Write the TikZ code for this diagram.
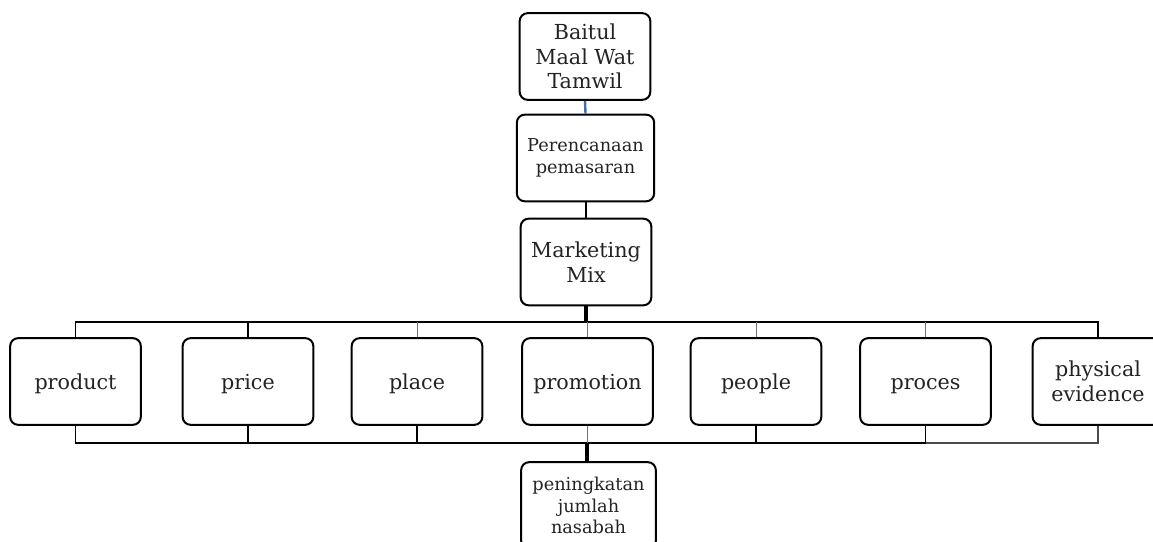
\documentclass[tikz,border=0pt]{standalone}
\usepackage{fontspec}
\setmainfont{DejaVu Serif}
\definecolor{txtgray}{RGB}{35,35,35}
\definecolor{linkblue}{RGB}{70,110,160}
\tikzset{
  box/.style={draw, line width=1.5pt, rounded corners=6pt, inner sep=0pt,
    minimum width=98pt, minimum height=65pt, align=center, text=txtgray},
  bigtxt/.style={font=\fontsize{15.5}{18.5}\selectfont},
  smalltxt/.style={font=\fontsize{13.3}{16.2}\selectfont},
  oneline/.style={text height=14pt, text depth=1.5pt},
  bus/.style={line width=1.2pt},
  thinstub/.style={line width=0.6pt, black!55},
  fatstub/.style={line width=2.6pt}
}
\begin{document}
\begin{tikzpicture}[x=0.75pt,y=0.75pt,yscale=-1,xscale=1]
\useasboundingbox (0,0) rectangle (1153,542);
\clip (0,0) rectangle (1153,542);

% top column
\node[box, bigtxt] (bmt) at (585,56.5) {Baitul\\Maal Wat\\Tamwil};
\node[box, smalltxt, minimum width=103pt] (plan) at (585.5,158) {Perencanaan\\pemasaran};
\node[box, bigtxt] (mix) at (586,262) {Marketing\\Mix};

% marketing mix row
\node[box, bigtxt, oneline] (product) at (75.5,381.5) {product};
\node[box, bigtxt, oneline] (price) at (248,381.5) {price};
\node[box, bigtxt, oneline] (place) at (417,381.5) {place};
\node[box, bigtxt, oneline] (promotion) at (587.5,381.5) {promotion};
\node[box, bigtxt, oneline] (people) at (756,381.5) {people};
\node[box, bigtxt, oneline] (proces) at (925.5,381.5) {proces};
\node[box, bigtxt] (physical) at (1098,381.5) {physical\\evidence};

% result
\node[box, smalltxt, minimum width=101pt] (result) at (588.5,505.5) {peningkatan\\jumlah\\nasabah};

\coordinate (topbus) at (587,322);
\coordinate (botbus) at (587,443);

% links
\draw[line width=1.8pt, linkblue] (bmt.south) -- (plan.north);
\draw[line width=1.4pt] (plan.south) -- (mix.south |- plan.south) -- (mix.north);
\draw[fatstub] (mix.south) -- (mix.south |- topbus);

% top bus
\draw[line width=1pt] (product.north) -- (product.north |- topbus) -- (price.north |- topbus);
\draw[bus] (price.north) -- (price.north |- topbus) -| (physical.north);
\draw[thinstub] (place.north) -- (place.north |- topbus);
\draw[thinstub] (promotion.north) -- (promotion.north |- topbus);
\draw[thinstub] (people.north) -- (people.north |- topbus);
\draw[thinstub] (proces.north) -- (proces.north |- topbus);

% bottom bus
\draw[bus] (product.south) -- (product.south |- botbus) -- (proces.south |- botbus);
\draw[bus, black!70] (proces.south |- botbus) -| (physical.south);
\draw[bus] (price.south) -- (price.south |- botbus);
\draw[bus] (place.south) -- (place.south |- botbus);
\draw[thinstub] (promotion.south) -- (promotion.south |- botbus);
\draw[bus] (people.south) -- (people.south |- botbus);
\draw[bus] (proces.south) -- (proces.south |- botbus);
\draw[fatstub] (botbus) -- (botbus |- result.north);

\end{tikzpicture}
\end{document}
